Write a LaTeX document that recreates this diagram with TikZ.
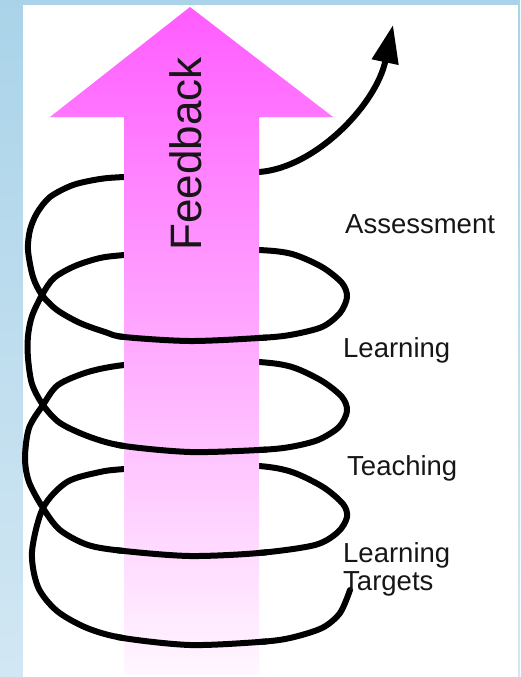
\documentclass[tikz,border=0pt]{standalone}
\usepackage{fontspec}
\setmainfont{Liberation Sans}
\usetikzlibrary{arrows.meta}

\definecolor{skyblue}{RGB}{170,211,233}
\definecolor{skylight}{RGB}{210,231,243}
\definecolor{fbtop}{RGB}{255,92,255}
\definecolor{fbmid}{RGB}{255,152,255}
\definecolor{fbbot}{RGB}{255,247,255}
\definecolor{inktext}{RGB}{22,22,22}

\tikzset{
    coil/.style={line width=6pt, line cap=round, line join=round},
    stage/.style={anchor=base west, text=inktext, inner sep=0pt, font=\fontsize{27.5}{28}\selectfont},
}

\def\helix{plot[smooth] coordinates {
    (350,590) (340,613) (322,628) (290,638) (259,642) (190,645) (123,638) (87,628) (57,611) (38,587) (32,552) (43,508)
    (67,482) (100,472) (124,469) (190,464) (259,466) (292,472) (323,487) (343,504) (347,517) (338,532) (315,545) (259,553) (190,556) (124,551) (88,545) (60,530) (43,508)
    (29,482) (25,458) (29,428) (43,405)
    (58,385) (88,372) (124,365) (190,360) (259,362) (292,367) (322,381) (342,397) (347,411) (339,427) (318,440) (290,447) (259,450) (190,452) (124,446) (90,437) (60,423) (43,405)
    (32,384) (28,358) (28,336) (32,316) (42,295)
    (54,278) (75,266) (100,258) (124,255) (190,249) (259,250) (292,254) (322,267) (342,283) (347,297) (340,313) (322,327) (290,335) (259,338) (190,341) (124,337) (105,332) (80,323) (57,310) (42,295)
    (33,277) (28,250) (30,230) (37,213) (50,197) (73,185) (100,179) (124,177) (190,174) (259,172)
}}

\begin{document}
\begin{tikzpicture}[x=1pt,y=-1pt]
    \useasboundingbox (0,0) rectangle (520,677);
    \shade[top color=skyblue, bottom color=skylight] (0,0) rectangle (520,677);
    \fill[white] (23,5) rectangle (518,677);

    \draw[coil] \helix;
    \coordinate (tail) at (259,172);
    \coordinate (tip) at (393,25);
    \draw[coil,-{Triangle[length=38pt,width=26pt]}] (tail) .. controls (315,168) and (376,105) .. (tip);

    \shade[top color=fbtop, middle color=fbmid, bottom color=fbbot]
        (124,675) -- (124,117) -- (50,117) -- (190,7) -- (333,117) -- (259,117) -- (259,675) -- cycle;
    \node[rotate=90, anchor=base, inner sep=0pt, text=inktext, font=\fontsize{44}{46}\selectfont] (feedback) at (201,154) {Feedback};

    \foreach \ya/\yb in {318/352,430/458,535/568,625/662}{
        \begin{scope}
            \clip (116,\ya) rectangle (267,\yb);
            \draw[coil] \helix;
        \end{scope}
    }

    \node[stage] (assessment) at (345,233) {Assessment};
    \node[stage] (learning) at (343,357) {Learning};
    \node[stage] (teaching) at (347,475) {Teaching};
    \node[stage] (targets1) at (343,562) {Learning};
    \node[stage] (targets2) at ([yshift=-28pt]targets1.base west) {Targets};
\end{tikzpicture}
\end{document}
